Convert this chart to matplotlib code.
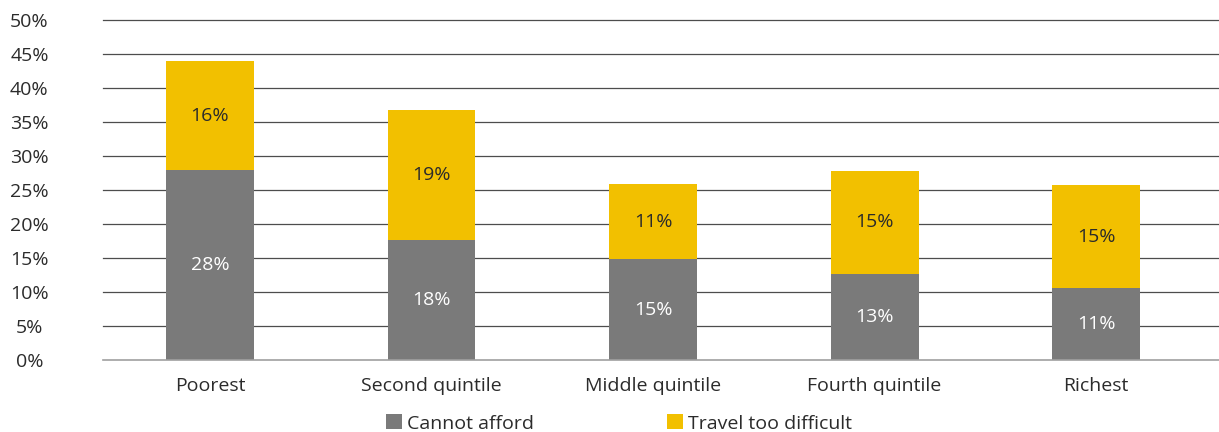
import matplotlib
matplotlib.use("Agg")
import matplotlib.pyplot as plt
import numpy as np

categories = ["Poorest", "Second quintile", "Middle quintile", "Fourth quintile", "Richest"]
cannot_afford = [27.9, 17.6, 14.8, 12.7, 10.6]
travel_difficult = [16.1, 19.2, 11.1, 15.1, 15.1]
series_names = ["Cannot afford", "Travel too difficult"]
yticks = list(range(0, 55, 5))

GRAY = "#7a7a7a"
YELLOW = "#f2c000"
TXT = "#2b2b2b"
FS = 14
plt.rcParams['font.family'] = ['Open Sans', 'DejaVu Sans']

fig = plt.figure(figsize=(12.19, 4.32), dpi=100)
ax = fig.add_axes([103/1219, 1-360/432, 1116/1219, 340/432])

x = np.arange(len(categories))
w = 0.397
b1 = ax.bar(x, cannot_afford, w, color=GRAY, label=series_names[0], zorder=3)
b2 = ax.bar(x, travel_difficult, w, bottom=cannot_afford, color=YELLOW, label=series_names[1], zorder=3)

for xi, v in zip(x, cannot_afford):
    ax.text(xi, v/2, f"{round(v)}%", ha='center', va='center', color='white', fontsize=FS, zorder=4)
for xi, b, v in zip(x, cannot_afford, travel_difficult):
    ax.text(xi, b + v/2, f"{round(v)}%", ha='center', va='center', color=TXT, fontsize=FS, zorder=4)

ax.set_xlim(-0.483, 4.555)
ax.set_ylim(0, 50)
ax.set_yticks(yticks)
ax.set_yticklabels([f"{t}%" for t in yticks], fontsize=FS, color=TXT, ha='center')
ax.set_xticks(x)
ax.set_xticklabels(categories, fontsize=FS, color=TXT)
ax.tick_params(length=0)
ax.tick_params(axis='y', pad=53)
ax.tick_params(axis='x', pad=12)
for yv in yticks:
    ax.axhline(yv, color='#4d4d4d' if yv else '#a0a0a0', lw=0.9 if yv else 1.2,
               zorder=1 if yv else 5, clip_on=False)
for s in ax.spines.values():
    s.set_visible(False)

fig.legend(handles=[b1, b2], labels=series_names, loc='center', bbox_to_anchor=(0.508, 0.02),
           ncol=2, frameon=False, fontsize=FS, handlelength=0.82, handleheight=0.82,
           handletextpad=0.25, columnspacing=6.85, labelcolor=TXT)

fig.savefig("out.png", dpi=100)
